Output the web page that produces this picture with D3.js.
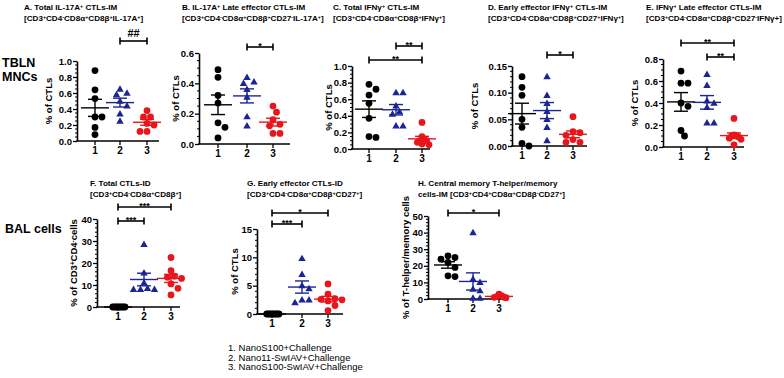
<!DOCTYPE html>
<html><head><meta charset="utf-8">
<script src="https://cdn.jsdelivr.net/npm/d3@7"></script>
<style>body{margin:0;background:#fff}svg{display:block}text{font-family:"Liberation Sans",Arial,sans-serif}</style>
</head><body><svg id="c" width="784" height="378"></svg>
<script>
// ---------- DATA ----------
const groups = ["1","2","3"];
const legendLabels = ["1. NanoS100+Challenge","2. Nano11-SwIAV+Challenge","3. NanoS100-SwIAV+Challenge"];
const rowLabels = [["TBLN","MNCs"],["BAL cells"]];

const titlesA = ["A. Total IL-17A^+ CTLs-IM","[CD3^+CD4^-CD8α^+CD8β^+IL-17A^+]"];
const titlesB = ["B. IL-17A^+ Late effector CTLs-IM","[CD3^+CD4^-CD8α^+CD8β^+CD27^-IL-17A^+]"];
const titlesC = ["C. Total IFNγ^+ CTLs-IM","[CD3^+CD4^-CD8α^+CD8β^+IFNγ^+]"];
const titlesD = ["D. Early effector IFNγ^+ CTLs-IM","[CD3^+CD4^-CD8α^+CD8β^+CD27^+IFNγ^+]"];
const titlesE = ["E. IFNγ^+ Late effector CTLs-IM","[CD3^+CD4^-CD8α^+CD8β^+CD27^-IFNγ+]"];
const titlesF = ["F. Total CTLs-ID","[CD3^+CD4^-CD8α^+CD8β^+]"];
const titlesG = ["G. Early effector CTLs-ID","[CD3^+CD4^-CD8α^+CD8β^+CD27^+]"];
const titlesH = ["H. Central memory T-helper/memory","cells-IM [CD3^+CD4^+CD8α^+CD8β^-CD27^+]"];

const yLabelA = "% of CTLs", yLabelB = "% of CTLs", yLabelC = "% of CTLs", yLabelD = "% of CTLs",
      yLabelE = "% of CTLs", yLabelF = "% of CD3^+CD4^-cells", yLabelG = "% of CTLs", yLabelH = "% of T-helper/memory cells";

const ticksA = [0,0.2,0.4,0.6,0.8,1.0];
const ticksB = [0,0.2,0.4,0.6];
const ticksC = [0,0.2,0.4,0.6,0.8,1.0];
const ticksD = [0,0.05,0.10,0.15];
const ticksE = [0,0.2,0.4,0.6,0.8];
const ticksF = [0,10,20,30,40];
const ticksG = [0,5,10,15];
const ticksH = [0,10,20,30,40,50];

const valsA = [[0.88,0.64,0.53,0.30,0.30,0.17,0.08],[0.65,0.60,0.58,0.50,0.44,0.34,0.25],[0.38,0.30,0.30,0.22,0.20,0.12,0.12]];
const valsB = [[0.49,0.44,0.32,0.27,0.14,0.11,0.04],[0.44,0.41,0.40,0.36,0.31,0.18,0.12],[0.25,0.21,0.16,0.13,0.12,0.07,0.07]];
const valsC = [[0.78,0.72,0.65,0.55,0.37,0.15,0.14],[0.68,0.68,0.52,0.45,0.42,0.28,0.28],[0.32,0.15,0.12,0.10,0.10,0.08,0.06,0.05]];
const valsD = [[0.13,0.11,0.095,0.05,0.035,0.005,0.0],[0.13,0.095,0.08,0.065,0.05,0.035,0.01],[0.055,0.027,0.025,0.02,0.012,0.007,0.007]];
const valsE = [[0.69,0.58,0.58,0.40,0.37,0.15,0.10],[0.66,0.56,0.42,0.40,0.36,0.22,0.22],[0.26,0.11,0.10,0.10,0.09,0.08,0.07,0.02]];
const valsF = [[0,0,0,0,0,0,0,0],[28.5,15.5,11,8.5,8,8,8],[22.5,16.5,14,13.5,13,10.5,8.5,5.5]];
const valsG = [[0,0,0,0,0,0,0,0],[9.8,7.0,5.0,4.5,2.5,2.5,2.0],[5.3,3.5,2.7,2.6,2.5,2.3,1.5,0.6]];
const valsH = [[26,25,24,22,19,14,13.5],[40,12,10,6,5,0.5,0.5],[3,2,1.5,1.2,1,0.8]];

// significance: [fromGroup, toGroup, label]
const sigA = [[2,3,"##"]];
const sigB = [[2,3,"*"]];
const sigC = [[2,3,"**"],[1,3,"**"]];
const sigD = [[2,3,"*"]];
const sigE = [[1,3,"**"],[2,3,"**"]];
const sigF = [[1,3,"***"],[1,2,"***"]];
const sigG = [[1,3,"*"],[1,2,"***"]];
const sigH = [[1,3,"*"]];

// ---------- STYLE / LAYOUT ----------
const colors = ["#000000","#1c2596","#e8161c"];
const shapes = [d3.symbolCircle, d3.symbolTriangle, d3.symbolCircle];

const panels = [
 {t:titlesA,yl:yLabelA,tk:ticksA,v:valsA,s:sigA,fmt:".1f",minor:4,tx:24,ty:10,ax:77,top:61,bot:141,xs:[95,120,147],xe:159,ylx:52,sy:[41]},
 {t:titlesB,yl:yLabelB,tk:ticksB,v:valsB,s:sigB,fmt:".1f",minor:4,tx:182,ty:10,ax:199,top:53,bot:144,xs:[218,247,273],xe:290,ylx:179,sy:[47]},
 {t:titlesC,yl:yLabelC,tk:ticksC,v:valsC,s:sigC,fmt:".1f",minor:4,tx:333,ty:10,ax:352,top:66,bot:149,xs:[369,396,422],xe:430,ylx:332,sy:[46,60]},
 {t:titlesD,yl:yLabelD,tk:ticksD,v:valsD,s:sigD,fmt:".2f",minor:5,tx:488,ty:10,ax:512,top:66,bot:146,xs:[522,547,573],xe:587,ylx:478,sy:[55]},
 {t:titlesE,yl:yLabelE,tk:ticksE,v:valsE,s:sigE,fmt:".1f",minor:4,tx:646,ty:10,ax:663,top:59,bot:147,xs:[681,707,734],xe:744,ylx:638,sy:[43,57]},
 {t:titlesF,yl:yLabelF,tk:ticksF,v:valsF,s:sigF,fmt:"d",minor:5,tx:90,ty:186,ax:97,top:219,bot:307,xs:[118,144,171],xe:180,ylx:77,sy:[207,221]},
 {t:titlesG,yl:yLabelG,tk:ticksG,v:valsG,s:sigG,fmt:"d",minor:5,tx:247,ty:186,ax:257,top:229,bot:314,xs:[272,302,328],xe:343,ylx:238,sy:[213,224]},
 {t:titlesH,yl:yLabelH,tk:ticksH,v:valsH,s:sigH,fmt:"d",minor:5,tx:418,ty:186,ax:428,top:216,bot:299,xs:[448,473,499],xe:508,ylx:409,sy:[213]}
];

const svg = d3.select("#c");
const TFS = 8.1;

function richText(sel, str, fs){
  const parts = str.split(/\^(.)/);
  parts.forEach((p,i)=>{
    if(p==="") return;
    if(i%2===1){
      sel.append("tspan").attr("font-size",fs*0.66).attr("baseline-shift","35%").text(p);
    } else {
      sel.append("tspan").text(p);
    }
  });
}

// row labels
svg.append("text").attr("x",2).attr("y",67).attr("font-size",12.5).attr("font-weight","bold").text(rowLabels[0][0]);
svg.append("text").attr("x",2).attr("y",81).attr("font-size",12.5).attr("font-weight","bold").text(rowLabels[0][1]);
svg.append("text").attr("x",5).attr("y",233).attr("font-size",12.5).attr("font-weight","bold").text(rowLabels[1][0]);

panels.forEach(P=>{
  const g = svg.append("g");
  // titles
  P.t.forEach((line,i)=>{
    const t = g.append("text").attr("x",P.tx).attr("y",P.ty+i*11).attr("font-size",TFS).attr("font-weight","bold");
    richText(t,line,TFS);
  });
  const dom = [0, P.tk[P.tk.length-1]];
  const y = d3.scaleLinear().domain(dom).range([P.bot,P.top]);
  const x = d3.scaleOrdinal().domain(groups).range(P.xs);

  // y axis
  const yAx = d3.axisLeft(y).tickValues(P.tk).tickFormat(d3.format(P.fmt)).tickSize(4).tickSizeOuter(0);
  const ya = g.append("g").attr("transform",`translate(${P.ax},0)`).call(yAx);
  ya.select(".domain").attr("stroke","#000").attr("stroke-width",1.6);
  ya.selectAll(".tick line").attr("stroke-width",1.3);
  ya.selectAll(".tick text").attr("font-size",9.5).attr("font-weight","bold").attr("font-family","Liberation Sans, Arial").attr("x",-5);
  // minor ticks
  const step = P.tk[1]-P.tk[0];
  const minors = [];
  for(let i=0;i<P.tk.length-1;i++) for(let k=1;k<P.minor;k++) minors.push(P.tk[i]+step*k/P.minor);
  g.selectAll(".mn").data(minors).join("line").attr("x1",P.ax-2).attr("x2",P.ax)
    .attr("y1",d=>y(d)).attr("y2",d=>y(d)).attr("stroke","#000").attr("stroke-width",1);

  // x axis
  g.append("line").attr("x1",P.ax-0.8).attr("x2",P.xe).attr("y1",P.bot).attr("y2",P.bot).attr("stroke","#000").attr("stroke-width",1.6);
  groups.forEach(gr=>{
    g.append("line").attr("x1",x(gr)).attr("x2",x(gr)).attr("y1",P.bot).attr("y2",P.bot+4).attr("stroke","#000").attr("stroke-width",1.3);
    g.append("text").attr("x",x(gr)).attr("y",P.bot+13).attr("text-anchor","middle").attr("font-size",10).attr("font-weight","bold").text(gr);
  });

  // y label
  const cy = (P.top+P.bot)/2;
  const yl = g.append("text").attr("transform",`translate(${P.ylx},${cy}) rotate(-90)`).attr("text-anchor","middle")
     .attr("font-size",9.5).attr("font-weight","bold");
  richText(yl,P.yl,9.5);

  // points
  P.v.forEach((vals,gi)=>{
    const cx = x(groups[gi]);
    const sorted = vals.map((v,i)=>({v,i})).sort((a,b)=>b.v-a.v);
    const placed = [];
    const D = 7;
    sorted.forEach(p=>{
      const py = y(p.v);
      let off = 0;
      const cands=[0];
      for(let k=1;k<12;k++){cands.push(k*D/2,-k*D/2);}
      for(const c of cands){
        if(placed.every(q=>Math.hypot(q.x-c,q.y-py)>=D-0.5)){off=c;break;}
      }
      placed.push({x:off,y:py,v:p.v});
    });
    const mx = d3.max(placed,d=>Math.abs(d.x));
    const sc = mx>14 ? 7/mx : 1;
    g.selectAll(null).data(placed).join("path")
      .attr("d",d3.symbol().type(shapes[gi]).size(gi===1?24:36))
      .attr("transform",d=>`translate(${cx+d.x*sc},${d.y+(gi===1?0.5:0)})`)
      .attr("fill",colors[gi]);
    // mean & SEM
    const m = d3.mean(vals), sem = d3.deviation(vals)/Math.sqrt(vals.length);
    const c = colors[gi];
    g.append("line").attr("x1",cx-14).attr("x2",cx+14).attr("y1",y(m)).attr("y2",y(m)).attr("stroke",c).attr("stroke-width",1.4);
    g.append("line").attr("x1",cx).attr("x2",cx).attr("y1",y(m+sem)).attr("y2",y(Math.max(0,m-sem))).attr("stroke",c).attr("stroke-width",1.4);
    [m+sem, m-sem].forEach(e=>{ if(e>=0) g.append("line").attr("x1",cx-7).attr("x2",cx+7).attr("y1",y(e)).attr("y2",y(e)).attr("stroke",c).attr("stroke-width",1.4);});
  });

  // significance
  P.s.forEach((s,i)=>{
    const x1 = x(groups[s[0]-1]), x2 = x(groups[s[1]-1]), yy = P.sy[i];
    g.append("line").attr("x1",x1).attr("x2",x2).attr("y1",yy).attr("y2",yy).attr("stroke","#000").attr("stroke-width",1.6);
    [x1,x2].forEach(xx=>g.append("line").attr("x1",xx).attr("x2",xx).attr("y1",yy-3.5).attr("y2",yy+3.5).attr("stroke","#000").attr("stroke-width",1.6));
    const isHash = s[2]==="##";
    g.append("text").attr("x",(x1+x2)/2).attr("y",isHash?yy-4:yy+1.5).attr("text-anchor","middle")
      .attr("font-size",isHash?11:9).attr("font-weight","bold").text(s[2]);
  });
});

// legend
legendLabels.forEach((l,i)=>{
  svg.append("text").attr("x",228).attr("y",351+i*9.7).attr("font-size",9.5).text(l);
});
</script></body></html>
